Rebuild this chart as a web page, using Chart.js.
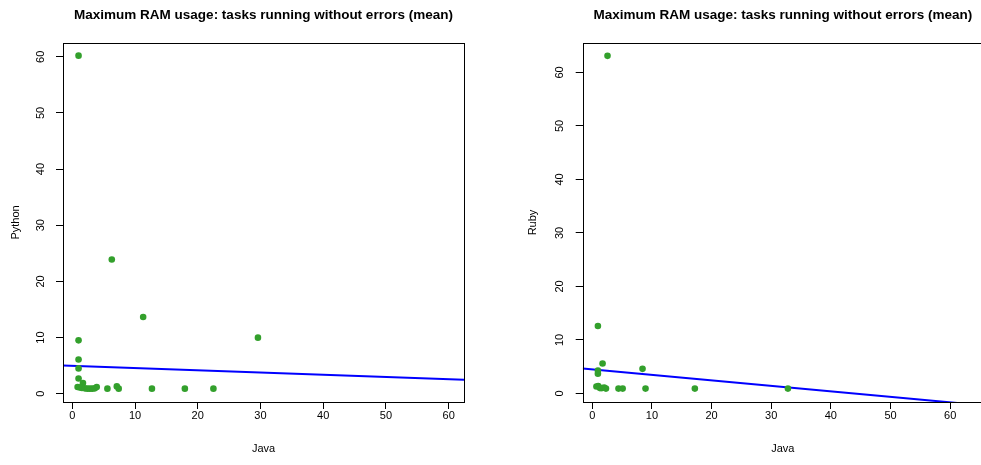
<!DOCTYPE html>
<html>
<head>
<meta charset="utf-8">
<script src="https://cdn.jsdelivr.net/npm/chart.js@4/dist/chart.umd.min.js"></script>
<style>
  html, body { margin: 0; padding: 0; background: #fff; overflow: hidden; width: 981px; height: 465px; }
  #c1 { position: absolute; left: 0; top: 0; }
  #c2 { position: absolute; left: 490px; top: 0; }
</style>
</head>
<body>
<canvas id="c1" width="490" height="465"></canvas>
<canvas id="c2" width="500" height="465"></canvas>
<script>
// ---- data ----
const chartTitle = "Maximum RAM usage: tasks running without errors (mean)";
const xTitle = "Java";
const leftYTitle = "Python";
const rightYTitle = "Ruby";
const tickValues = [0, 10, 20, 30, 40, 50, 60];

// Left panel: Java (x) vs Python (y)
const javaPy   = [1.0, 6.3, 11.3, 29.6, 1.0, 1.0, 1.0, 1.0, 1.7, 0.85, 1.2, 1.55, 2.0, 2.4, 2.8, 3.2, 3.6, 3.9, 5.6, 7.1, 7.4, 12.7, 17.95, 22.5];
const python   = [60.2, 23.9, 13.65, 9.98, 9.5, 6.1, 4.5, 2.7, 1.9, 1.2, 1.1, 1.0, 0.95, 0.9, 0.9, 0.9, 0.95, 1.2, 0.9, 1.3, 0.9, 0.9, 0.9, 0.9];
const fitPyX   = [-1.48, 62.45];
const fitPyY   = [5.04, 2.5];

// Right panel: Java (x) vs Ruby (y)
const javaRb   = [2.56, 0.95, 1.73, 0.95, 0.95, 8.43, 0.7, 1.0, 1.3, 1.6, 2.0, 2.3, 4.4, 5.1, 8.93, 17.2, 32.8];
const ruby     = [63.1, 12.6, 5.6, 4.3, 3.7, 4.6, 1.3, 1.4, 1.0, 1.0, 1.1, 0.9, 0.9, 0.9, 0.9, 0.9, 0.9];
const fitRbX   = [-1.6, 65.5];
const fitRbY   = [4.67, -2.23];

// ---- helpers ----
const FONT = "'Liberation Sans', Arial, Helvetica, sans-serif";
const GREEN = "#33a02c";

function pts(xs, ys) { return xs.map((x, i) => ({ x: x, y: ys[i] })); }

const frame = {
  id: 'frame',
  afterDraw(chart) {
    const { ctx, chartArea: a } = chart;
    ctx.save();
    ctx.strokeStyle = '#000';
    ctx.lineWidth = 1;
    ctx.strokeRect(Math.round(a.left) + 0.5, Math.round(a.top) + 0.5,
                   Math.round(a.right - a.left), Math.round(a.bottom - a.top));
    ctx.font = "bold 13.5px " + FONT;
    ctx.fillStyle = '#000';
    ctx.textAlign = 'center';
    ctx.textBaseline = 'middle';
    ctx.fillText(chart.options.plugins.frame.title, (a.left + a.right) / 2, 15.5);
    ctx.restore();
  }
};

function makeChart(id, xs, ys, fx, fy, yLabel, range, yAxisWidth, yTitlePad, yTickPad, padRight) {
  return new Chart(document.getElementById(id), {
    type: 'scatter',
    data: {
      datasets: [
        {
          type: 'scatter',
          data: pts(xs, ys),
          backgroundColor: GREEN,
          borderWidth: 0,
          pointRadius: 3.3,
          pointHoverRadius: 3.3
        },
        {
          type: 'line',
          data: pts(fx, fy),
          borderColor: '#0000ff',
          borderWidth: 2,
          pointRadius: 0,
          fill: false,
          tension: 0,
          clip: 0
        }
      ]
    },
    options: {
      responsive: false,
      animation: false,
      devicePixelRatio: 1,
      layout: { padding: { top: 43, right: padRight, bottom: 0, left: 0 } },
      plugins: {
        legend: { display: false },
        tooltip: { enabled: false },
        title: { display: false },
        frame: { title: chartTitle }
      },
      scales: {
        x: {
          type: 'linear',
          min: range[0], max: range[1],
          afterFit(s) { s.height = 63; },
          afterBuildTicks(s) { s.ticks = tickValues.map(v => ({ value: v })); },
          border: { display: false },
          grid: { display: true, drawOnChartArea: false, drawTicks: true, tickLength: 7, color: '#000', lineWidth: 1 },
          ticks: { font: { family: FONT, size: 11 }, color: '#000', padding: 0, maxRotation: 0, autoSkip: false },
          title: { display: true, text: xTitle, font: { family: FONT, size: 11 }, color: '#000', padding: { top: 0, bottom: 9.4 } }
        },
        y: {
          type: 'linear',
          min: range[0], max: range[1],
          afterFit(s) { s.width = yAxisWidth; },
          afterBuildTicks(s) { s.ticks = tickValues.map(v => ({ value: v })); },
          border: { display: false },
          grid: { display: true, drawOnChartArea: false, drawTicks: true, tickLength: 7, color: '#000', lineWidth: 1 },
          ticks: { font: { family: FONT, size: 11 }, color: '#000', padding: yTickPad, minRotation: 90, maxRotation: 90, crossAlign: 'center', autoSkip: false },
          title: { display: true, text: yLabel, font: { family: FONT, size: 11 }, color: '#000', padding: { top: yTitlePad, bottom: 0 } }
        }
      }
    },
    plugins: [frame]
  });
}

makeChart('c1', javaPy, python, fitPyX, fitPyY, leftYTitle, [-1.48, 62.45], 63, 9.4, 8.9, 26);
makeChart('c2', javaRb, ruby, fitRbX, fitRbY, rightYTitle, [-1.6, 65.5], 92.7, 36.4, 9.6, 7);
</script>
</body>
</html>
